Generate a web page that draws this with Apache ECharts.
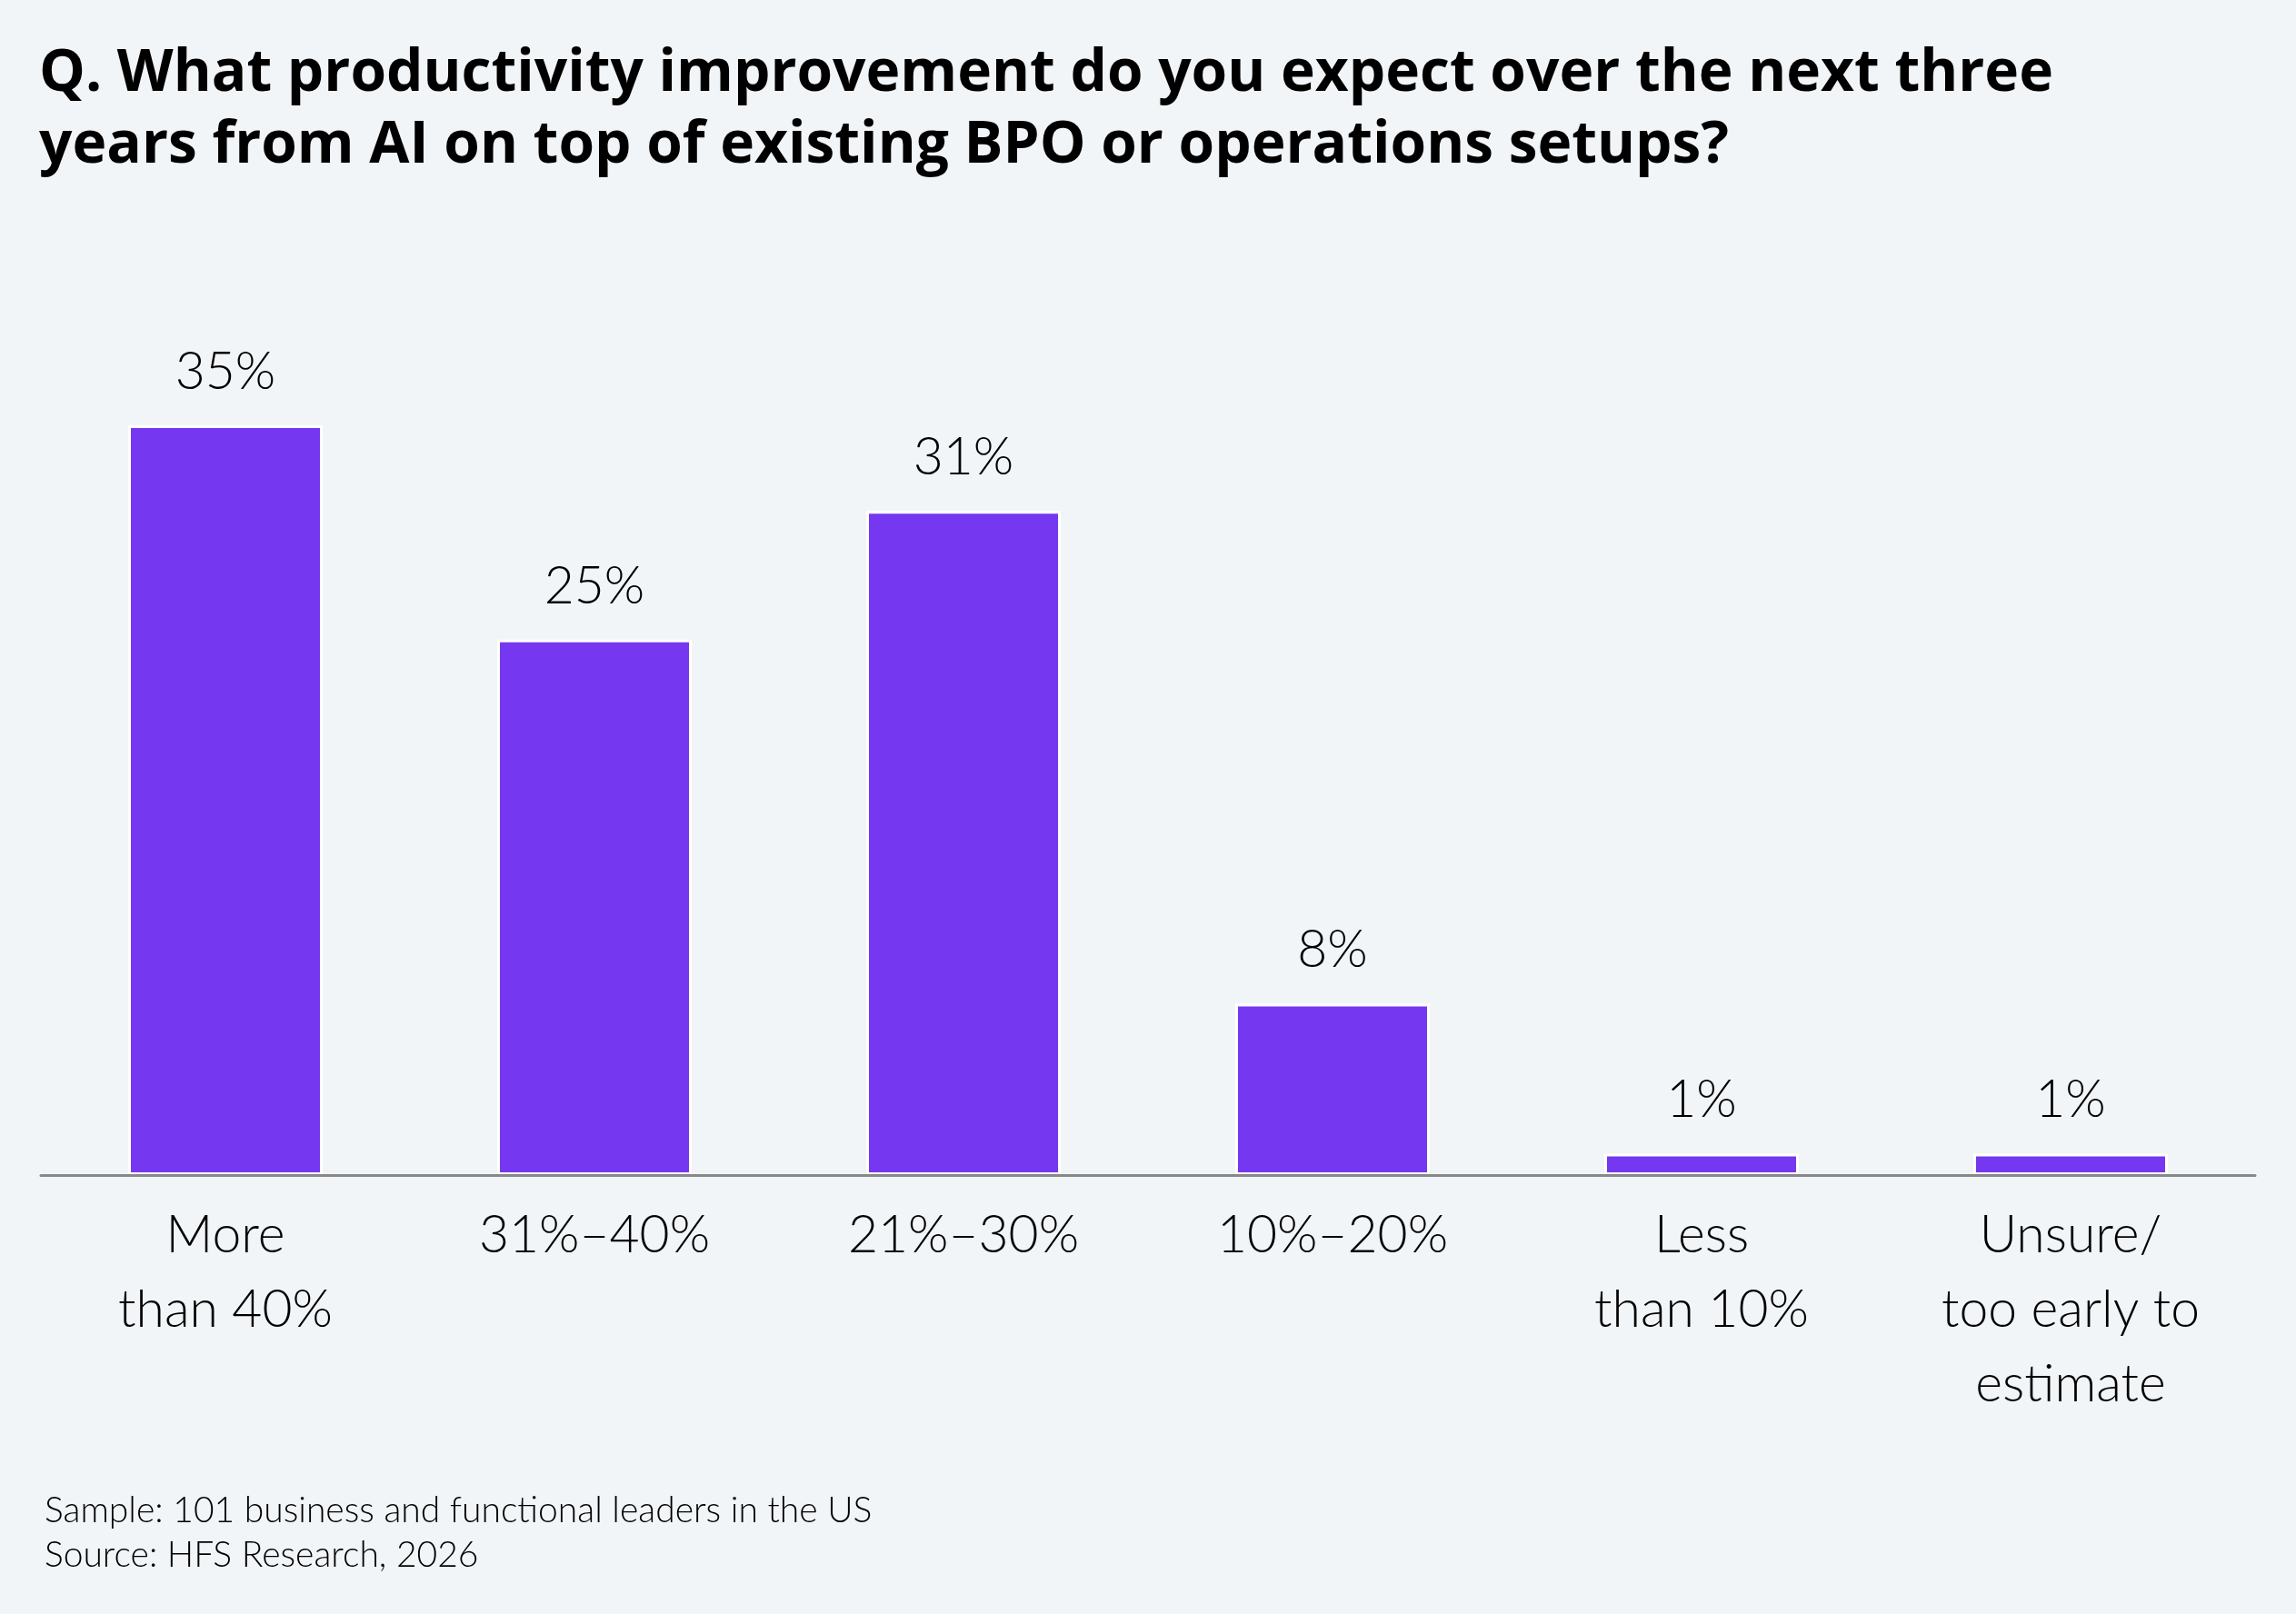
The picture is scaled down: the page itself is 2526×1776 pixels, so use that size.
<!DOCTYPE html>
<html>
<head>
<meta charset="utf-8">
<script src="https://cdn.jsdelivr.net/npm/echarts@6/dist/echarts.min.js"></script>
<style>
  html, body { margin: 0; padding: 0; background: #F2F5F8; }
  #chart { width: 2526px; height: 1776px; }
</style>
</head>
<body>
<div id="chart"></div>
<script>
// categories and values
var categories = ['More\nthan 40%', '31%\u201340%', '21%\u201330%', '10%\u201320%', 'Less\nthan 10%', 'Unsure/\ntoo early to\nestimate'];
var shares = [35, 25, 31, 8, 1, 1];

var titleText = 'Q. What productivity improvement do you expect over the next three\nyears from AI on top of existing BPO or operations setups?';
var noteText = 'Sample: 101 business and functional leaders in the US\nSource: HFS Research, 2026';

var barColor = '#7537F0';
var fontColor = '#000';
var lightFont = 'Lato';

var myChart = echarts.init(document.getElementById('chart'));

var option = {
    backgroundColor: '#F2F5F8',
    title: [{
        text: titleText,
        left: 38,
        top: 37,
        textStyle: {
            color: fontColor,
            fontFamily: 'Open Sans',
            fontWeight: 700,
            fontSize: 64,
            lineHeight: 79
        }
    }, {
        text: noteText,
        left: 44,
        top: 1633,
        textStyle: {
            color: fontColor,
            fontFamily: lightFont,
            fontWeight: 300,
            fontSize: 39,
            lineHeight: 49
        }
    }],
    grid: {
        left: 45,
        right: 45,
        top: 350,
        bottom: 483
    },
    xAxis: {
        type: 'category',
        data: categories,
        z: 5,
        axisLine: { lineStyle: { color: '#888', width: 3 } },
        axisTick: { show: false },
        axisLabel: {
            interval: 0,
            margin: 26,
            color: fontColor,
            fontFamily: lightFont,
            fontWeight: 300,
            fontSize: 57,
            lineHeight: 82
        }
    },
    yAxis: {
        type: 'value',
        min: 0,
        max: 40,
        show: false,
        splitLine: { show: false }
    },
    series: [{
        type: 'bar',
        data: shares,
        barWidth: 214,
        itemStyle: {
            color: barColor,
            borderColor: '#fff',
            borderWidth: 3
        },
        label: {
            show: true,
            position: 'top',
            distance: 30,
            formatter: '{c}%',
            color: fontColor,
            fontFamily: lightFont,
            fontWeight: 300,
            fontSize: 57
        }
    }]
};
myChart.setOption(option);
</script>
</body>
</html>
